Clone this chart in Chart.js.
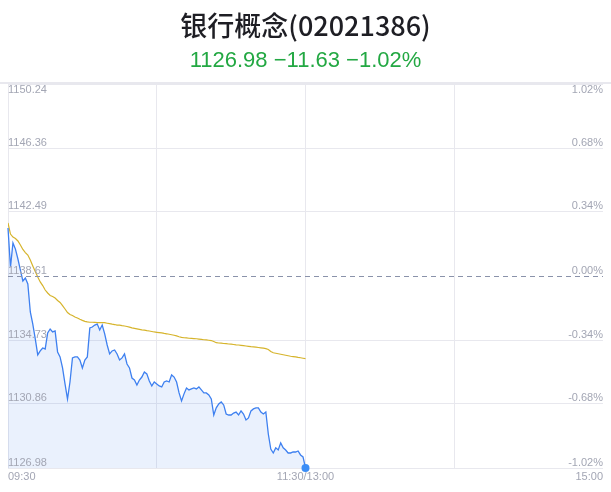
<!DOCTYPE html>
<html>
<head>
<meta charset="utf-8">
<script src="https://cdn.jsdelivr.net/npm/chart.js@4/dist/chart.umd.min.js"></script>
<style>
  body { margin: 0; background: #fff; }
  #wrap { position: relative; width: 611px; height: 492px; overflow: hidden; }
  #title { position: absolute; top: 6px; left: 0; width: 611px; text-align: center;
           font: 500 27px "Noto Sans CJK SC", "Noto Sans", sans-serif; color: #1e1e24; line-height: 38px; }
  #sub { position: absolute; top: 46px; left: 0; width: 611px; text-align: center;
         font: 22px "Liberation Sans", Arial, sans-serif; color: #23a843; line-height: 28px; }
  #topline { position: absolute; top: 82px; left: 0; width: 611px; height: 2px; background: #e8e8ee; }
  canvas { position: absolute; top: 0; left: 0; }
</style>
</head>
<body>
<div id="wrap">
  <canvas id="chart" width="611" height="492"></canvas>
  <div id="title">银行概念(02021386)</div>
  <div id="sub">1126.98 &minus;11.63 &minus;1.02%</div>
  <div id="topline"></div>
</div>
<script>
// previous close and axis ticks
const prevClose = 1138.61;
const yTicks = [1150.24, 1146.36, 1142.49, 1138.61, 1134.73, 1130.86, 1126.98];
const pctTicks = ['1.02%', '0.68%', '0.34%', '0.00%', '-0.34%', '-0.68%', '-1.02%'];
const timeTicks = [0, 120, 240];
const timeLabels = ['09:30', '11:30/13:00', '15:00'];

// price, one point per minute from 09:30 to 11:30
const prices = [
  1141.52, 1139.15, 1140.61, 1140.24, 1139.64, 1138.97, 1138.31, 1138.49, 1138.13, 1136.43,
  1135.70, 1134.80, 1133.83, 1134.07, 1134.25, 1134.19, 1135.16, 1135.40, 1135.22, 1135.28,
  1134.01, 1133.71, 1133.04, 1132.07, 1131.16, 1132.19, 1133.65, 1133.71, 1133.71, 1133.52,
  1133.04, 1133.52, 1133.71, 1135.46, 1135.52, 1135.64, 1135.70, 1135.34, 1135.64, 1135.10,
  1134.43, 1133.89, 1134.07, 1134.13, 1133.89, 1133.52, 1133.65, 1133.89, 1133.28, 1133.04,
  1132.43, 1132.31, 1132.01, 1132.31, 1132.49, 1132.80, 1132.68, 1132.25, 1131.95, 1132.19,
  1132.07, 1131.95, 1131.89, 1132.19, 1132.25, 1132.19, 1132.62, 1132.49, 1132.19, 1131.53,
  1131.04, 1131.47, 1131.83, 1131.71, 1131.77, 1131.83, 1131.77, 1131.89, 1131.71, 1131.53,
  1131.53, 1131.40, 1131.16, 1130.19, 1130.62, 1130.86, 1130.98, 1130.80, 1130.25, 1130.19,
  1130.19, 1130.31, 1130.37, 1130.19, 1130.44, 1130.25, 1129.89, 1130.01, 1130.44, 1130.56,
  1130.62, 1130.62, 1130.37, 1130.25, 1130.37, 1129.04, 1128.13, 1127.89, 1128.20, 1128.07,
  1128.50, 1128.20, 1128.07, 1127.89, 1127.89, 1127.95, 1127.95, 1128.01, 1127.77, 1127.65,
  1126.98
];

// average price line
const avgPrices = [
  1141.82, 1141.15, 1140.97, 1140.88, 1140.73, 1140.49, 1140.22, 1140.03, 1139.88, 1139.58,
  1139.22, 1138.88, 1138.55, 1138.25, 1138.03, 1137.76, 1137.58, 1137.43, 1137.37, 1137.28,
  1137.13, 1137.01, 1136.82, 1136.61, 1136.40, 1136.28, 1136.22, 1136.13, 1136.07, 1135.99,
  1135.92, 1135.86, 1135.83, 1135.81, 1135.81, 1135.80, 1135.79, 1135.79, 1135.78, 1135.78,
  1135.75, 1135.72, 1135.69, 1135.67, 1135.64, 1135.63, 1135.60, 1135.58, 1135.55, 1135.51,
  1135.47, 1135.44, 1135.41, 1135.38, 1135.35, 1135.33, 1135.30, 1135.28, 1135.25, 1135.22,
  1135.20, 1135.18, 1135.16, 1135.13, 1135.11, 1135.08, 1135.05, 1135.02, 1134.98, 1134.93,
  1134.89, 1134.87, 1134.86, 1134.84, 1134.83, 1134.82, 1134.81, 1134.79, 1134.77, 1134.75,
  1134.74, 1134.72, 1134.70, 1134.64, 1134.57, 1134.55, 1134.54, 1134.52, 1134.51, 1134.49,
  1134.48, 1134.46, 1134.44, 1134.43, 1134.41, 1134.39, 1134.37, 1134.35, 1134.33, 1134.32,
  1134.30, 1134.28, 1134.26, 1134.24, 1134.21, 1134.16, 1134.04, 1133.96, 1133.93, 1133.90,
  1133.87, 1133.84, 1133.81, 1133.78, 1133.75, 1133.73, 1133.71, 1133.68, 1133.66, 1133.63,
  1133.60
];

const labelColor = '#a3a6b4';
const labelFont = '11px "Liberation Sans", Arial, sans-serif';

// draws the tick texts inside the plot and the dashed prev close line
const overlayPlugin = {
    id: 'overlay',
    afterDatasetsDraw(chart) {
        const ctx = chart.ctx;
        const area = chart.chartArea;
        const y = chart.scales.y;
        const py = Math.round(y.getPixelForValue(prevClose)) + 0.5;
        ctx.save();
        ctx.strokeStyle = '#8a92aa';
        ctx.lineWidth = 1;
        ctx.setLineDash([5, 4]);
        ctx.beginPath();
        ctx.moveTo(area.left, py);
        ctx.lineTo(area.right, py);
        ctx.stroke();
        ctx.restore();
    },
    afterDraw(chart) {
        const ctx = chart.ctx;
        const area = chart.chartArea;
        const y = chart.scales.y;
        const x = chart.scales.x;
        ctx.save();
        ctx.font = labelFont;
        ctx.fillStyle = labelColor;
        yTicks.forEach((v, i) => {
            const py = y.getPixelForValue(v);
            let ty;
            if (i === 0) {
                ctx.textBaseline = 'top';
                ty = py;
            } else {
                ctx.textBaseline = 'bottom';
                ty = py;
            }
            ctx.textAlign = 'left';
            ctx.fillText(v.toFixed(2), area.left, ty);
            ctx.textAlign = 'right';
            ctx.fillText(pctTicks[i], area.right, ty);
        });
        ctx.textBaseline = 'middle';
        timeTicks.forEach((t, i) => {
            const px = x.getPixelForValue(t);
            ctx.textAlign = i === 0 ? 'left' : (i === timeTicks.length - 1 ? 'right' : 'center');
            ctx.fillText(timeLabels[i], px, area.bottom + 8.5);
        });
        ctx.restore();
    }
};

const ctx = document.getElementById('chart').getContext('2d');
new Chart(ctx, {
    type: 'line',
    data: {
        datasets: [{
            label: 'price',
            data: prices.map((p, i) => ({ x: i, y: p })),
            borderColor: '#3e80f0',
            borderWidth: 1.3,
            backgroundColor: 'rgba(62, 128, 240, 0.11)',
            fill: 'start',
            tension: 0,
            clip: false,
            pointRadius: c => (c.dataIndex === prices.length - 1 ? 4 : 0),
            pointBackgroundColor: '#3b8df6',
            pointBorderWidth: 0
        }, {
            label: 'avg',
            data: avgPrices.map((p, i) => ({ x: i, y: p })),
            borderColor: '#d6b42c',
            borderWidth: 1.2,
            fill: false,
            tension: 0,
            pointRadius: 0
        }]
    },
    options: {
        responsive: false,
        animation: false,
        layout: { padding: { left: 8, right: 8, top: 84, bottom: 24 } },
        plugins: {
            legend: { display: false },
            tooltip: { enabled: false }
        },
        scales: {
            x: {
                type: 'linear',
                min: 0,
                max: 240,
                afterBuildTicks: s => { s.ticks = [0, 60, 120, 180, 240].map(v => ({ value: v })); },
                ticks: { display: false },
                grid: {
                    drawTicks: false,
                    color: c => (c.tick && c.tick.value === 240 ? 'rgba(0,0,0,0)' : '#e8e8ee')
                },
                border: { display: false }
            },
            y: {
                min: yTicks[yTicks.length - 1],
                max: yTicks[0],
                afterBuildTicks: s => { s.ticks = yTicks.map(v => ({ value: v })); },
                ticks: { display: false },
                grid: {
                    drawTicks: false,
                    color: c => (c.tick && c.tick.value === prevClose ? 'rgba(0,0,0,0)' : '#e8e8ee')
                },
                border: { display: false }
            }
        }
    },
    plugins: [overlayPlugin]
});
</script>
</body>
</html>
